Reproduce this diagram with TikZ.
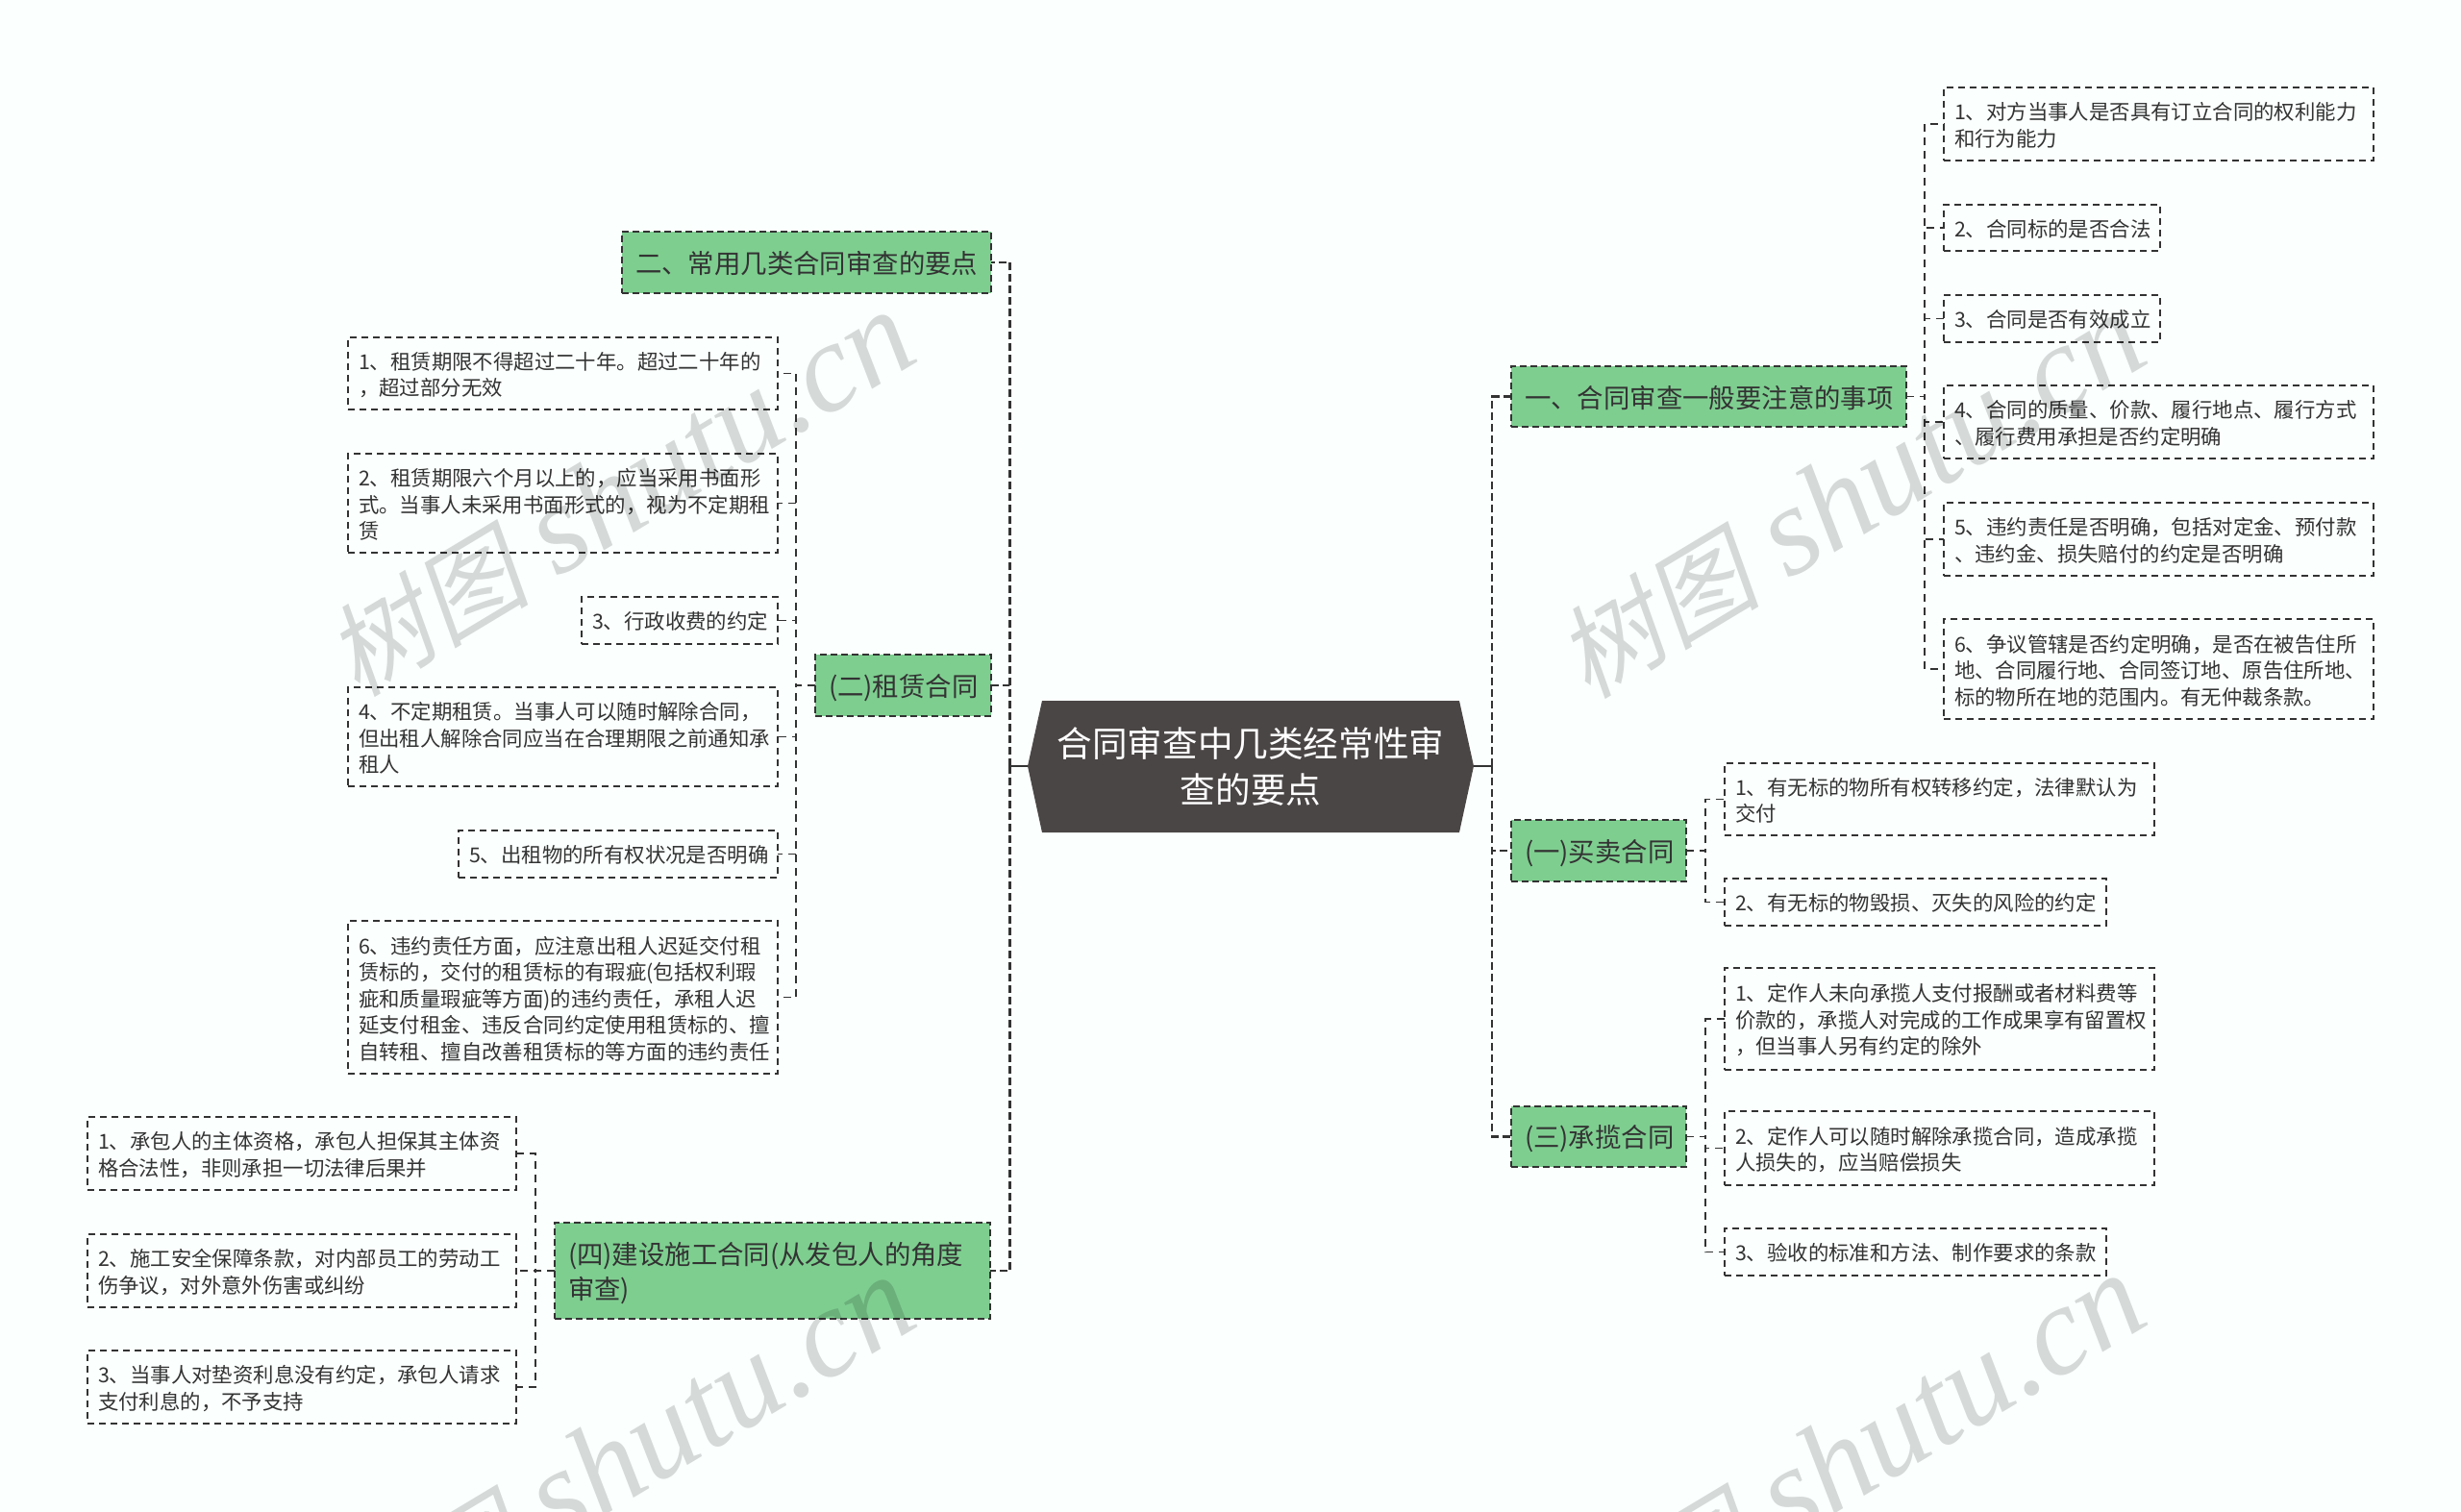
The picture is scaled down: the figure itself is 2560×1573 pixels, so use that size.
\documentclass[tikz,border=0pt]{standalone}
\usepackage{fontspec}
\setmainfont{Noto Sans CJK SC}
\newfontfamily\markcjk[FakeSlant=0.2]{Noto Sans CJK SC}
\newfontfamily\marklatin{Liberation Serif}
\definecolor{pagetint}{HTML}{FBFFFE}
\definecolor{topicgreen}{HTML}{7ECE90}
\definecolor{rootgray}{HTML}{4B4646}
\definecolor{inkgray}{HTML}{333333}
\newcommand{\marktext}{{\fontsize{106}{106}\selectfont\markcjk 树图}\hspace{30pt}{\fontsize{132}{132}\selectfont\marklatin\itshape shutu.cn}}
\tikzset{
    leafbox/.style={draw=inkgray, line width=1.4pt, dash pattern=on 7pt off 5pt, anchor=north west,
        inner xsep=11pt, inner ysep=0pt, outer sep=0pt, align=left, text=inkgray,
        execute at end node={\par\kern-3pt},
        font=\fontsize{21.4}{27.5}\selectfont},
    topicbox/.style={draw=inkgray, line width=1.6pt, dash pattern=on 7pt off 4pt, fill=topicgreen, anchor=north west,
        inner xsep=14pt, inner ysep=0pt, outer sep=0pt, align=left, text=inkgray,
        execute at end node={\par\kern-5pt},
        font=\fontsize{27.4}{36}\selectfont},
    rootbox/.style={inner sep=0pt, outer sep=0pt, align=center, text=white,
        minimum width=464pt, minimum height=137pt,
        font=\fontsize{36.6}{48}\selectfont},
    trunk/.style={draw=inkgray, line width=2.8pt, dash pattern=on 8pt off 4pt},
    stem/.style={draw=inkgray, line width=2.8pt},
    twig/.style={draw=inkgray, line width=1.4pt, dash pattern=on 8pt off 6pt},
    markbox/.style={text=black, opacity=0.15, rotate=31, inner sep=0pt}
}
\begin{document}
\begin{tikzpicture}[x=1pt, y=-1pt]
        \useasboundingbox (0,0) rectangle (2560,1573);
        \fill[pagetint] (0,0) rectangle (2560,1573);

        % root
        \fill[rootgray] (1069,797) -- (1084,729) -- (1518,729) -- (1533,797) -- (1518,866) -- (1084,866) -- cycle;
        \node[rootbox] (root) at (1301,797) {合同审查中几类经常性审\\查的要点};

        % topics right
        \node[topicbox, text width=383pt, minimum height=63pt] (general) at (1572,381) {一、合同审查一般要注意的事项};
        \node[topicbox, text width=154pt, minimum height=64pt] (sale) at (1572,853) {(一)买卖合同};
        \node[topicbox, text width=154pt, minimum height=63pt] (work) at (1572,1151) {(三)承揽合同};

        % topics left
        \node[topicbox, text width=356pt, minimum height=64pt] (common) at (647,241) {二、常用几类合同审查的要点};
        \node[topicbox, text width=155pt, minimum height=64pt] (lease) at (848,681) {(二)租赁合同};
        \node[topicbox, text width=425pt, minimum height=100pt] (build) at (577,1272) {(四)建设施工合同(从发包人的角度\\审查)};

        % leaves of general
        \node[leafbox, text width=425pt, minimum height=76pt] (genA) at (2022,91) {1、对方当事人是否具有订立合同的权利能力\\和行为能力};
        \node[leafbox, text width=203pt, minimum height=48pt] (genB) at (2022,213) {2、合同标的是否合法};
        \node[leafbox, text width=203pt, minimum height=49pt] (genC) at (2022,307) {3、合同是否有效成立};
        \node[leafbox, text width=425pt, minimum height=76pt] (genD) at (2022,401) {4、合同的质量、价款、履行地点、履行方式\\、履行费用承担是否约定明确};
        \node[leafbox, text width=425pt, minimum height=76pt] (genE) at (2022,523) {5、违约责任是否明确，包括对定金、预付款\\、违约金、损失赔付的约定是否明确};
        \node[leafbox, text width=425pt, minimum height=104pt] (genF) at (2022,644) {6、争议管辖是否约定明确，是否在被告住所\\地、合同履行地、合同签订地、原告住所地、\\标的物所在地的范围内。有无仲裁条款。};

        % leaves of sale
        \node[leafbox, text width=425pt, minimum height=75pt] (saleA) at (1794,794) {1、有无标的物所有权转移约定，法律默认为\\交付};
        \node[leafbox, text width=375pt, minimum height=49pt] (saleB) at (1794,914) {2、有无标的物毁损、灭失的风险的约定};

        % leaves of work
        \node[leafbox, text width=425pt, minimum height=106pt] (workA) at (1794,1007) {1、定作人未向承揽人支付报酬或者材料费等\\价款的，承揽人对完成的工作成果享有留置权\\，但当事人另有约定的除外};
        \node[leafbox, text width=425pt, minimum height=77pt] (workB) at (1794,1156) {2、定作人可以随时解除承揽合同，造成承揽\\人损失的，应当赔偿损失};
        \node[leafbox, text width=375pt, minimum height=49pt] (workC) at (1794,1278) {3、验收的标准和方法、制作要求的条款};

        % leaves of lease
        \node[leafbox, text width=425pt, minimum height=75pt] (leaseA) at (362,351) {1、租赁期限不得超过二十年。超过二十年的\\，超过部分无效};
        \node[leafbox, text width=425pt, minimum height=103pt] (leaseB) at (362,472) {2、租赁期限六个月以上的，应当采用书面形\\式。当事人未采用书面形式的，视为不定期租\\赁};
        \node[leafbox, text width=182pt, minimum height=49pt] (leaseC) at (605,621) {3、行政收费的约定};
        \node[leafbox, text width=425pt, minimum height=103pt] (leaseD) at (362,715) {4、不定期租赁。当事人可以随时解除合同，\\但出租人解除合同应当在合理期限之前通知承\\租人};
        \node[leafbox, text width=310pt, minimum height=49pt] (leaseE) at (477,864) {5、出租物的所有权状况是否明确};
        \node[leafbox, text width=425pt, minimum height=159pt] (leaseF) at (362,958) {6、违约责任方面，应注意出租人迟延交付租\\赁标的，交付的租赁标的有瑕疵(包括权利瑕\\疵和质量瑕疵等方面)的违约责任，承租人迟\\延支付租金、违反合同约定使用租赁标的、擅\\自转租、擅自改善租赁标的等方面的违约责任};

        % leaves of build
        \node[leafbox, text width=424pt, minimum height=76pt] (buildA) at (91,1162) {1、承包人的主体资格，承包人担保其主体资\\格合法性，非则承担一切法律后果并};
        \node[leafbox, text width=424pt, minimum height=76pt] (buildB) at (91,1284) {2、施工安全保障条款，对内部员工的劳动工\\伤争议，对外意外伤害或纠纷};
        \node[leafbox, text width=424pt, minimum height=76pt] (buildC) at (91,1405) {3、当事人对垫资利息没有约定，承包人请求\\支付利息的，不予支持};

        % bus points
        \coordinate (busleft) at (1050.5,797);
        \coordinate (busright) at (1552,797);
        \coordinate (busgeneral) at (2002,412.5);
        \coordinate (bussale) at (1774,885);
        \coordinate (buswork) at (1774,1182.5);
        \coordinate (buslease) at (828,713);
        \coordinate (busbuild) at (557,1322);

        % root to topics
        \draw[stem] (root.west) -- (busleft);
        \draw[stem] (root.east) -- (busright);
        \draw[trunk] (busright) |- (general.west);
        \draw[trunk] (busright) |- (sale.west);
        \draw[trunk] (busright) |- (work.west);
        \draw[trunk] (busleft) |- (common.east);
        \draw[trunk] (busleft) |- (lease.east);
        \draw[trunk] (busleft) |- (build.east);

        % topics to leaves
        \draw[twig] (general.east) -- (busgeneral) |- (genA.west);
        \draw[twig] (general.east) -- (busgeneral) |- (genB.west);
        \draw[twig] (general.east) -- (busgeneral) |- (genC.west);
        \draw[twig] (general.east) -- (busgeneral) |- (genD.west);
        \draw[twig] (general.east) -- (busgeneral) |- (genE.west);
        \draw[twig] (general.east) -- (busgeneral) |- (genF.west);
        \draw[twig] (sale.east) -- (bussale) |- (saleA.west);
        \draw[twig] (sale.east) -- (bussale) |- (saleB.west);
        \draw[twig] (work.east) -- (buswork) |- (workA.west);
        \draw[twig] (work.east) -- (buswork) |- (workB.west);
        \draw[twig] (work.east) -- (buswork) |- (workC.west);
        \draw[twig] (lease.west) -- (buslease) |- (leaseA.east);
        \draw[twig] (lease.west) -- (buslease) |- (leaseB.east);
        \draw[twig] (lease.west) -- (buslease) |- (leaseC.east);
        \draw[twig] (lease.west) -- (buslease) |- (leaseD.east);
        \draw[twig] (lease.west) -- (buslease) |- (leaseE.east);
        \draw[twig] (lease.west) -- (buslease) |- (leaseF.east);
        \draw[twig] (build.west) -- (busbuild) |- (buildA.east);
        \draw[twig] (build.west) -- (busbuild) |- (buildB.east);
        \draw[twig] (build.west) -- (busbuild) |- (buildC.east);

        % watermark
        \begin{scope}
        \clip (0,0) rectangle (2560,1573);
        \node[markbox] (markA) at (645,514) {\marktext};
        \node[markbox] (markB) at (1925,516) {\marktext};
        \node[markbox] (markC) at (645,1518) {\marktext};
        \node[markbox] (markD) at (1925,1516) {\marktext};
        \end{scope}
    \end{tikzpicture}
\end{document}
